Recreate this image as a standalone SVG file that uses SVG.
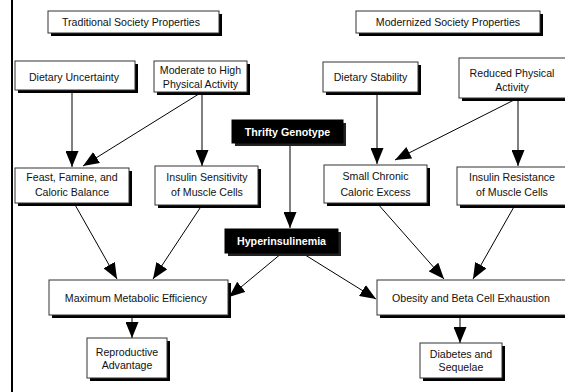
<svg xmlns="http://www.w3.org/2000/svg" width="565" height="392" viewBox="0 0 565 392">
<defs>
<marker id="ah" markerUnits="userSpaceOnUse" markerWidth="16" markerHeight="13" refX="16" refY="6.5" orient="auto">
<path d="M0,0 L16,6.5 L0,13 z" fill="#000"/>
</marker>
</defs>
<style>
.box{fill:#fff;stroke:#333;stroke-width:1}
.sh{fill:#000}
.dk{fill:#000;stroke:#000;stroke-width:1}
.dksh{fill:#222}
.t{font-family:"Liberation Sans",Arial,sans-serif;font-size:10.6px;fill:#111;text-anchor:middle}
.tb{font-family:"Liberation Sans",Arial,sans-serif;font-size:10.7px;font-weight:bold;fill:#fff;text-anchor:middle}
.c{stroke:#000;stroke-width:1;fill:none;marker-end:url(#ah)}
</style>
<rect width="565" height="392" fill="#fff"/>
<line x1="12" y1="0" x2="12" y2="392" stroke="#000" stroke-width="2"/>

<g id="connectors">
<line class="c" x1="72" y1="90" x2="72" y2="167"/>
<line class="c" x1="202" y1="92" x2="83" y2="166"/>
<line class="c" x1="202" y1="92" x2="202" y2="166"/>
<line class="c" x1="290" y1="143" x2="290" y2="228"/>
<line class="c" x1="377" y1="92" x2="377" y2="164"/>
<line class="c" x1="518" y1="98" x2="395" y2="160"/>
<line class="c" x1="518" y1="98" x2="518" y2="166"/>
<line class="c" x1="74" y1="203" x2="117" y2="279"/>
<line class="c" x1="202" y1="205" x2="153" y2="279"/>
<line class="c" x1="282" y1="253" x2="229" y2="297"/>
<line class="c" x1="302" y1="253" x2="376" y2="299"/>
<line class="c" x1="377" y1="203" x2="444" y2="279"/>
<line class="c" x1="515" y1="205" x2="473" y2="279"/>
<line class="c" x1="132" y1="315" x2="132" y2="338"/>
<line class="c" x1="460" y1="315" x2="460" y2="343"/>
</g>

<g id="trad">
<rect class="sh" x="51" y="14" width="171" height="22"/>
<rect class="box" x="48" y="11" width="171" height="22"/>
<text class="t" x="131" y="26">Traditional Society Properties</text>
</g>
<g id="mod">
<rect class="sh" x="359" y="14" width="184" height="22"/>
<rect class="box" x="356" y="11" width="184" height="22"/>
<text class="t" x="448" y="26">Modernized Society Properties</text>
</g>
<g id="diet_unc">
<rect class="sh" x="18" y="64" width="120" height="29"/>
<rect class="box" x="15" y="61" width="120" height="29"/>
<text class="t" x="74" y="81">Dietary Uncertainty</text>
</g>
<g id="moderate">
<rect class="sh" x="157" y="64" width="93" height="31"/>
<rect class="box" x="154" y="61" width="93" height="31"/>
<text class="t" x="200.5" y="74">Moderate to High</text>
<text class="t" x="200.5" y="88">Physical Activity</text>
</g>
<g id="diet_stab">
<rect class="sh" x="326" y="65" width="95" height="30"/>
<rect class="box" x="323" y="62" width="95" height="30"/>
<text class="t" x="370.5" y="81">Dietary Stability</text>
</g>
<g id="reduced">
<rect class="sh" x="462" y="61" width="108" height="40"/>
<rect class="box" x="459" y="58" width="108" height="40"/>
<text class="t" x="512" y="77">Reduced Physical</text>
<text class="t" x="512" y="91">Activity</text>
</g>
<g id="feast">
<rect class="sh" x="18" y="171" width="114" height="35"/>
<rect class="box" x="15" y="168" width="114" height="35"/>
<text class="t" x="72" y="181">Feast, Famine, and</text>
<text class="t" x="72" y="196">Caloric Balance</text>
</g>
<g id="ins_sens">
<rect class="sh" x="158" y="169" width="103" height="39"/>
<rect class="box" x="155" y="166" width="103" height="39"/>
<text class="t" x="207" y="181">Insulin Sensitivity</text>
<text class="t" x="207" y="196">of Muscle Cells</text>
</g>
<g id="thrifty">
<rect class="dksh" x="235" y="123" width="111" height="23"/>
<rect class="dk" x="232" y="120" width="111" height="23"/>
<text class="tb" x="287.5" y="135.5">Thrifty Genotype</text>
</g>
<g id="small">
<rect class="sh" x="327" y="168" width="103" height="38"/>
<rect class="box" x="324" y="165" width="103" height="38"/>
<text class="t" x="375.5" y="180">Small Chronic</text>
<text class="t" x="375.5" y="196">Caloric Excess</text>
</g>
<g id="ins_res">
<rect class="sh" x="460" y="170" width="112" height="38"/>
<rect class="box" x="457" y="167" width="112" height="38"/>
<text class="t" x="512" y="181">Insulin Resistance</text>
<text class="t" x="512" y="196">of Muscle Cells</text>
</g>
<g id="hyper">
<rect class="dksh" x="228" y="232" width="113" height="24"/>
<rect class="dk" x="225" y="229" width="113" height="24"/>
<text class="tb" x="281.5" y="245">Hyperinsulinemia</text>
</g>
<g id="maxm">
<rect class="sh" x="52" y="283" width="179" height="35"/>
<rect class="box" x="49" y="280" width="179" height="35"/>
<text class="t" x="136" y="301.5">Maximum Metabolic Efficiency</text>
</g>
<g id="obesity">
<rect class="sh" x="380" y="283" width="190" height="35"/>
<rect class="box" x="377" y="280" width="190" height="35"/>
<text class="t" x="471" y="301.5">Obesity and Beta Cell Exhaustion</text>
</g>
<g id="repro">
<rect class="sh" x="90" y="341" width="80" height="40"/>
<rect class="box" x="87" y="338" width="80" height="40"/>
<text class="t" x="127" y="355.5">Reproductive</text>
<text class="t" x="127" y="369">Advantage</text>
</g>
<g id="diabetes">
<rect class="sh" x="423" y="346" width="82" height="35"/>
<rect class="box" x="420" y="343" width="82" height="35"/>
<text class="t" x="461" y="357.5">Diabetes and</text>
<text class="t" x="461" y="371">Sequelae</text>
</g>
</svg>
